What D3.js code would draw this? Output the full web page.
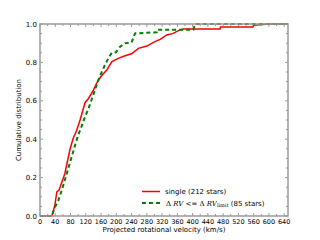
<!DOCTYPE html>
<html>
<head>
<meta charset="utf-8">
<script src="https://cdn.jsdelivr.net/npm/d3@7"></script>
<style>
body{margin:0;background:#fff;}
text{font-family:"DejaVu Sans",sans-serif;fill:#000;}
</style>
</head>
<body>
<svg id="chart" width="320" height="240"></svg>
<script>
// cumulative curves (velocity km/s, fraction)
var singleV = [0,31,39,44,50,65,79,87,96,105,118,127,140,149,159,175,188,205,223,240,258,280,301,315,332,349,367,376,472,473,558,560,600,650];
var singleC = [0,0,0.056,0.125,0.135,0.22,0.35,0.405,0.445,0.5,0.59,0.612,0.656,0.694,0.725,0.76,0.803,0.821,0.835,0.845,0.873,0.885,0.908,0.92,0.943,0.951,0.969,0.974,0.974,0.985,0.985,0.993,1,1];
var limitV = [0,31,39,48,57,65,74,83,92,100,107,118,127,135,144,153,162,170,179,188,199,210,223,240,249,306,307,402,406,650];
var limitC = [0,0,0.044,0.08,0.134,0.186,0.247,0.308,0.369,0.42,0.456,0.516,0.56,0.604,0.656,0.708,0.751,0.786,0.821,0.85,0.853,0.882,0.9,0.903,0.951,0.957,0.97,0.97,1,1];
var xTicks = d3.range(0,641,40);
var yTicks = [0,0.2,0.4,0.6,0.8,1.0];

var svg = d3.select("#chart");
var L=40, R=288, T=24, B=216;
var x = d3.scaleLinear().domain([0,650]).range([L,R]);
var y = d3.scaleLinear().domain([0,1]).range([B,T]);

var line = d3.line().x(d => x(d[0])).y(d => y(d[1]));

svg.append("path")
  .datum(singleV.map((v,i) => [v,singleC[i]]))
  .attr("d",line).attr("fill","none")
  .attr("stroke","#ff0000").attr("stroke-width",1.5);

svg.append("path")
  .datum(limitV.map((v,i) => [v,limitC[i]]))
  .attr("d",line).attr("fill","none")
  .attr("stroke","#008000").attr("stroke-width",2)
  .attr("stroke-dasharray","4,3");

// ticks, pointing inward
var minX = d3.range(0,651,20), minY = d3.range(0,1.0001,0.05);
var tk = svg.append("g").attr("stroke","#555").attr("stroke-width",0.6);
minX.forEach(function(v){
  var len = (v%40==0)?3:2;
  tk.append("line").attr("x1",x(v)).attr("x2",x(v)).attr("y1",B).attr("y2",B-len);
  tk.append("line").attr("x1",x(v)).attr("x2",x(v)).attr("y1",T).attr("y2",T+len);
});
minY.forEach(function(v,i){
  var len = (i%4==0)?3:2;
  tk.append("line").attr("y1",y(v)).attr("y2",y(v)).attr("x1",L).attr("x2",L+len);
  tk.append("line").attr("y1",y(v)).attr("y2",y(v)).attr("x1",R).attr("x2",R-len);
});

svg.append("rect").attr("x",L).attr("y",T).attr("width",R-L).attr("height",B-T)
  .attr("fill","none").attr("stroke","#999").attr("stroke-width",1.5);

svg.selectAll(".xl").data(xTicks).enter().append("text")
  .attr("x",d => x(d)).attr("y",B+8).attr("text-anchor","middle")
  .attr("font-size",6.5).text(d => d);
svg.selectAll(".yl").data(yTicks).enter().append("text")
  .attr("x",L-3).attr("y",d => y(d)+2.5).attr("text-anchor","end")
  .attr("font-size",7).text(d => d.toFixed(1));

svg.append("text").attr("x",(L+R)/2).attr("y",232).attr("text-anchor","middle")
  .attr("font-size",7).text("Projected rotational velocity (km/s)");
svg.append("text").attr("transform","translate(21,"+((T+B)/2)+") rotate(-90)")
  .attr("text-anchor","middle").attr("font-size",7).text("Cumulative distribution");

// legend
var lg = svg.append("g");
lg.append("line").attr("x1",142).attr("x2",160).attr("y1",191.5).attr("y2",191.5)
  .attr("stroke","#ff0000").attr("stroke-width",1.5);
lg.append("line").attr("x1",142).attr("x2",160).attr("y1",203).attr("y2",203)
  .attr("stroke","#008000").attr("stroke-width",2).attr("stroke-dasharray","4,3");
lg.append("text").attr("x",165).attr("y",194).attr("font-size",7).text("single (212 stars)");
var t2 = lg.append("text").attr("x",166).attr("y",205.5).attr("font-size",7);
t2.append("tspan").attr("font-family","DejaVu Serif").text("Δ ");
t2.append("tspan").attr("font-family","DejaVu Serif").attr("font-style","italic").text("RV");
t2.append("tspan").attr("font-family","DejaVu Serif").text(" <= Δ ");
t2.append("tspan").attr("font-family","DejaVu Serif").attr("font-style","italic").text("RV");
t2.append("tspan").attr("font-family","DejaVu Serif").attr("font-size",5).attr("dy",1.5).text("limit");
t2.append("tspan").attr("dy",-1.5).text(" (85 stars)");
</script>
</body>
</html>
